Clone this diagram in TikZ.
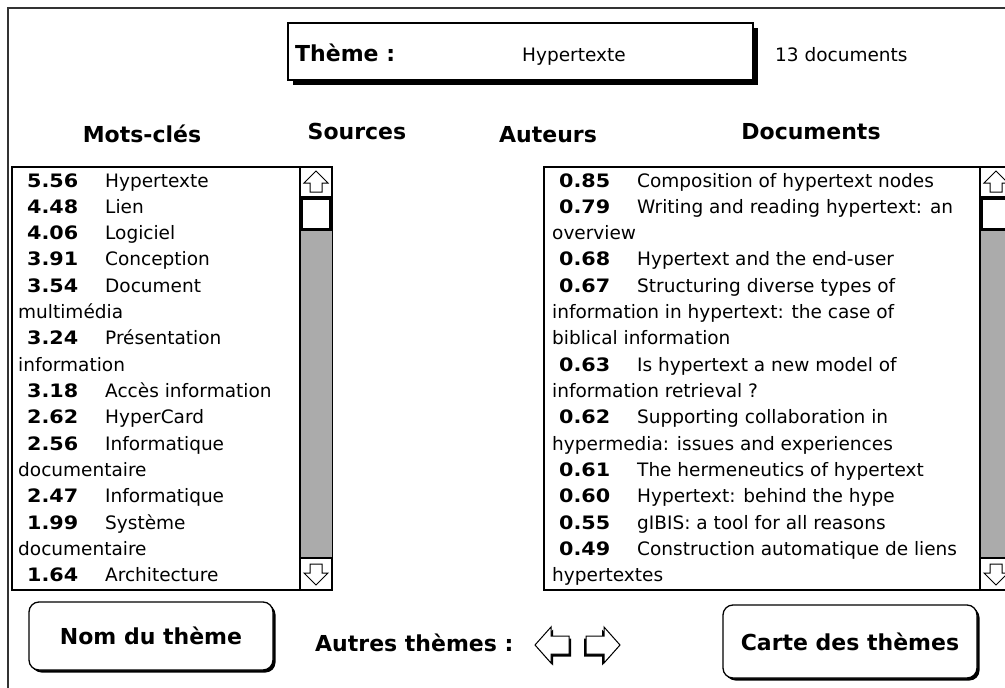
\documentclass[tikz,border=0pt]{standalone}
\usepackage{fontspec}
\setmainfont{DejaVu Sans}
\newfontfamily\numfont{DejaVu Sans}[FakeStretch=1.12]
\newcommand\geneva{\fontsize{18.5}{22}\selectfont}
\newcommand\chicago{\bfseries\fontsize{22}{26}\selectfont}
\tikzset{
	lab/.style={inner sep=0pt, anchor=base west, font=\geneva},
	score/.style={inner sep=0pt, anchor=base west, font=\numfont\bfseries\fontsize{18.5}{22}\selectfont},
	head/.style={inner sep=0pt, anchor=base, font=\chicago},
	button/.style={draw, line width=1.3pt, rounded corners=10pt, fill=white, font=\chicago,
		preaction={fill=black, transform canvas={shift={(2.5pt,-2.5pt)}}}},
	frame/.style={line width=1.4pt},
	track/.style={fill=black!33},
	uparr/.pic={\draw[line width=1pt] (0,-11) -- (12,1) -- (6,1) -- (6,10) -- (-6,10) -- (-6,1) -- (-12,1) -- cycle;},
	navarr/.pic={
		\fill[black, shift={(-2,2.5)}] (0,0) -- (-16,-18) -- (-16,-9) -- (-34,-9) -- (-34,9) -- (-16,9) -- (-16,18) -- cycle;
		\filldraw[fill=white, line width=1pt] (0,0) -- (-16,-18) -- (-16,-9) -- (-34,-9) -- (-34,9) -- (-16,9) -- (-16,18) -- cycle;}
}
\begin{document}
\begin{tikzpicture}[x=1pt, y=-1pt]
					\fill[white] (0,0) rectangle (1005,688);
					\useasboundingbox (0,0) rectangle (1005,688);
					\clip (0,0) rectangle (1005,688);
					\draw[line width=1.5pt, black!80] (8,700) -- (8,8) -- (1020,8);
					\node[draw, line width=1.3pt, fill=white, inner sep=0pt, minimum width=465pt, minimum height=57pt,
						preaction={fill=black, transform canvas={shift={(5pt,-5pt)}}}] (themebox) at (520.5,51.5) {};
					\node[inner sep=0pt, anchor=base west, font=\chicago] (themelab) at (295,61) {Thème :};
					\node[lab] (theme) at (522,61) {Hypertexte};
					\node[lab] (count) at (775,61) {13 documents};
					\node[head] (keywords) at (142,142) {Mots-clés};
					\node[head] (sources) at (357,139) {Sources};
					\node[head] (authors) at (548,142) {Auteurs};
					\node[head] (documents) at (811,139) {Documents};
					\draw[frame] (12,167) rectangle (332,590);
					\draw[frame] (544,167) rectangle (1012,590);
					\foreach \sx in {300,980}{
						\fill[track] (\sx,230) rectangle (\sx+32,558);
						\draw[frame] (\sx,167) -- (\sx,590) (\sx,197) -- (\sx+32,197) (\sx,558) -- (\sx+32,558);
						\draw[line width=3pt] (\sx+1.5,198.5) rectangle (\sx+30.5,229);
						\pic at (\sx+16,182) {uparr};
						\pic[yscale=-1] at (\sx+16,574) {uparr};
					}
					\foreach \r/\v/\t in {0/5.56/Hypertexte, 1/4.48/Lien, 2/4.06/Logiciel, 3/3.91/Conception,
						4/3.54/Document, 6/3.24/Présentation, 8/3.18/Accès information, 9/2.62/HyperCard,
						10/2.56/Informatique, 12/2.47/Informatique, 13/1.99/Système, 15/1.64/Architecture}{
						\node[score] (kwv\r) at (27,{187+26.33*\r}) {\v};
						\node[lab] (kw\r) at (105,{187+26.33*\r}) {\t};
					}
					\foreach \r/\t in {5/multimédia, 7/information, 11/documentaire, 14/documentaire}
						\node[lab] (kwc\r) at (18,{187+26.33*\r}) {\t};
					\foreach \r/\v/\t in {0/0.85/Composition of hypertext nodes, 1/0.79/Writing and reading hypertext: an,
						3/0.68/Hypertext and the end-user, 4/0.67/Structuring diverse types of,
						7/0.63/Is hypertext a new model of, 9/0.62/Supporting collaboration in,
						11/0.61/The hermeneutics of hypertext, 12/0.60/Hypertext: behind the hype,
						13/0.55/gIBIS: a tool for all reasons, 14/0.49/Construction automatique de liens}{
						\node[score] (docv\r) at (559,{187+26.33*\r}) {\v};
						\node[lab] (doc\r) at (637,{187+26.33*\r}) {\t};
					}
					\foreach \r/\t in {2/overview, 5/information in hypertext: the case of, 6/biblical information,
						8/information retrieval ?, 10/hypermedia: issues and experiences, 15/hypertextes}
						\node[lab] (docc\r) at (552,{187+26.33*\r}) {\t};
					\node[button, minimum width=244pt, minimum height=68pt] (name) at (151,636) {Nom du thème};
					\node[inner sep=0pt, anchor=base west, font=\chicago] (others) at (315,651) {Autres thèmes :};
					\path (535,645) pic[xscale=-1] {navarr};
					\path (620,645) pic {navarr};
					\node[button, minimum width=254pt, minimum height=73pt] (map) at (850,641.5) {Carte des thèmes};
				\end{tikzpicture}
\end{document}
